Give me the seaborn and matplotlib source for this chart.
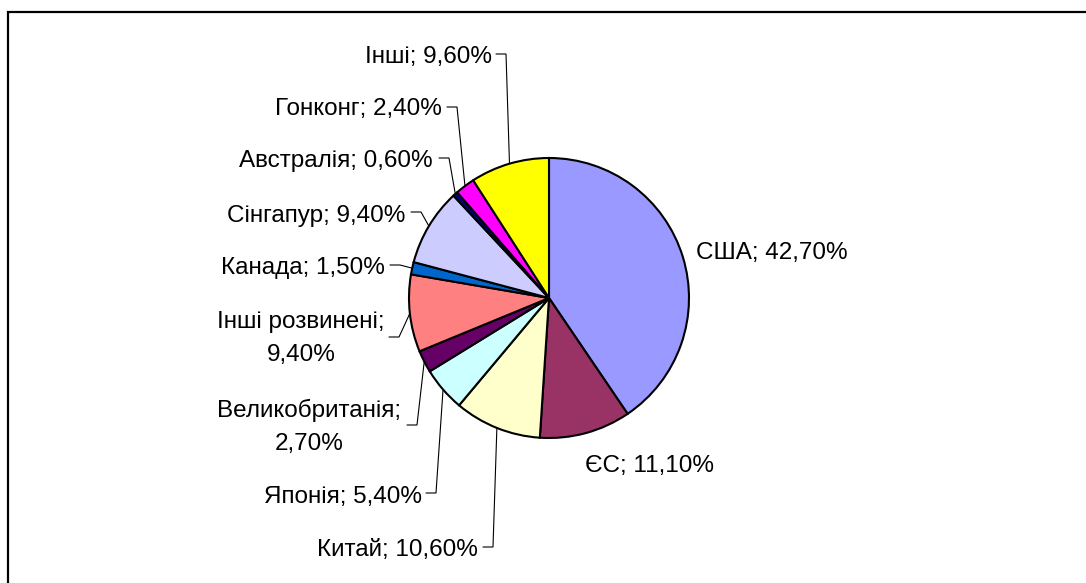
import numpy as np
import matplotlib
matplotlib.use("Agg")
import matplotlib.pyplot as plt
import seaborn as sns
from matplotlib.patches import Rectangle

# ---- data ----
countries = ["США", "ЄС", "Китай", "Японія", "Великобританія", "Інші розвинені",
             "Канада", "Сінгапур", "Австралія", "Гонконг", "Інші"]
shares = [42.7, 11.1, 10.6, 5.4, 2.7, 9.4, 1.5, 9.4, 0.6, 2.4, 9.6]
colors = ["#9999FF", "#993366", "#FFFFCC", "#CCFFFF", "#660066", "#FF8080",
          "#0066CC", "#CCCCFF", "#000080", "#FF00FF", "#FFFF00"]

# ---- layout (pixel coordinates, y from top) ----
W, H = 1086, 583
CX, CY, R = 549, 298, 140
# (x, baseline y, horizontal alignment, two-line?, leader?)
label_layout = {
    "США":            (696, 259, "left",   False, False),
    "ЄС":             (585, 472, "left",   False, False),
    "Китай":          (478, 556, "right",  False, True),
    "Японія":         (422, 503, "right",  False, True),
    "Великобританія": (309, 417, "center", True,  True),
    "Інші розвинені": (301, 328, "center", True,  True),
    "Канада":         (385, 274, "right",  False, True),
    "Сінгапур":       (405, 222, "right",  False, True),
    "Австралія":      (433, 167, "right",  False, True),
    "Гонконг":        (442, 115, "right",  False, True),
    "Інші":           (492, 63,  "right",  False, True),
}
# leader attach points: (start x, y) of the short horizontal tick
leader_attach = {
    "Китай": (483, 547), "Японія": (426, 493), "Великобританія": (407, 425),
    "Інші розвинені": (389, 337), "Канада": (390, 265), "Сінгапур": (411, 212),
    "Австралія": (439, 158), "Гонконг": (447, 107), "Інші": (496, 54),
}
TICK = 10
LINE_GAP = 33

sns.set_theme(style="white")
plt.rcParams["font.family"] = ["Liberation Sans", "DejaVu Sans"]
FS = 17.5

fig = plt.figure(figsize=(W / 100, H / 100), dpi=100)
fig.patch.set_facecolor("white")
ax = fig.add_axes([0, 0, 1, 1])

def py(y):
    return H - y

wedges, _ = ax.pie(shares, colors=colors, startangle=90, counterclock=False,
                   center=(CX, py(CY)), radius=R,
                   wedgeprops=dict(edgecolor="black", linewidth=1.5))
ax.set_xlim(0, W)
ax.set_ylim(0, H)
ax.set_aspect("equal")
ax.axis("off")

for name, val, w in zip(countries, shares, wedges):
    x, yb, ha, two, lead = label_layout[name]
    val_txt = f"{val:.2f}".replace(".", ",") + "%"
    if two:
        ax.text(x, py(yb), f"{name};", ha="center", va="baseline", fontsize=FS, color="black")
        ax.text(x, py(yb + LINE_GAP), val_txt, ha="center", va="baseline", fontsize=FS, color="black")
    else:
        ax.text(x, py(yb), f"{name}; {val_txt}", ha=ha, va="baseline", fontsize=FS, color="black")
    if lead:
        mid = np.deg2rad((w.theta1 + w.theta2) / 2)
        ex = CX + R * np.cos(mid)
        ey = py(CY) + R * np.sin(mid)
        sx, sy = leader_attach[name]
        ax.plot([sx, sx + TICK, ex], [py(sy), py(sy), ey], color="black", lw=0.8,
                solid_joinstyle="miter")

# outer frame (partially outside the image, as in the reference)
fig.patches.append(Rectangle((8 / W, -0.1), 1.2, (H - 12) / H + 0.1,
                             transform=fig.transFigure, fill=False,
                             edgecolor="black", linewidth=1.6))

fig.savefig("out.png", dpi=100, facecolor="white")
